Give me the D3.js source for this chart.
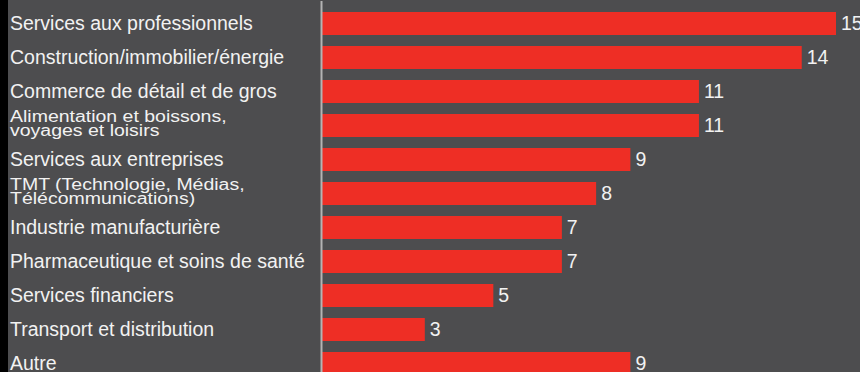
<!DOCTYPE html>
<html>
<head>
<meta charset="utf-8">
<script src="https://cdn.jsdelivr.net/npm/d3@7"></script>
<style>
  html, body { margin: 0; padding: 0; background: #4d4d4f; }
  svg { display: block; }
  text { font-family: "Liberation Sans", Arial, Helvetica, sans-serif; fill: #f2f2f2; }
</style>
</head>
<body>
<svg id="chart" width="860" height="372"></svg>
<script>
const categories = [
  "Services aux professionnels",
  "Construction/immobilier/énergie",
  "Commerce de détail et de gros",
  "Alimentation et boissons,\nvoyages et loisirs",
  "Services aux entreprises",
  "TMT (Technologie, Médias,\nTélécommunications)",
  "Industrie manufacturière",
  "Pharmaceutique et soins de santé",
  "Services financiers",
  "Transport et distribution",
  "Autre"
];
const values = [15, 14, 11, 11, 9, 8, 7, 7, 5, 3, 9];

const W = 860, H = 372;
const FS = 19.5;
const svg = d3.select("#chart");

svg.append("rect").attr("x", 0).attr("y", 0).attr("width", W).attr("height", H).attr("fill", "#4d4d4f");
svg.append("rect").attr("x", 0).attr("y", 0).attr("width", 8).attr("height", H).attr("fill", "#000");

const x = d3.scaleLinear().domain([0, d3.max(values)]).range([322, 836]);
const y = d3.scaleBand().domain(categories).range([12, 12 + 34 * 11 - 11]).paddingInner(11 / 34).paddingOuter(0);

const data = categories.map((c, i) => ({ c, v: values[i] }));

svg.selectAll("rect.bar").data(data).join("rect")
  .attr("class", "bar")
  .attr("x", x(0))
  .attr("y", d => y(d.c))
  .attr("width", d => x(d.v) - x(0))
  .attr("height", y.bandwidth())
  .attr("fill", "#ee2e25");

svg.append("line")
  .attr("x1", 321.5).attr("x2", 321.5)
  .attr("y1", 1).attr("y2", H)
  .attr("stroke", "#b4b4b4").attr("stroke-width", 2);

// category labels
const lab = svg.selectAll("g.lab").data(data).join("g").attr("class", "lab");
lab.each(function(d) {
  const g = d3.select(this);
  const cy = y(d.c) + y.bandwidth() / 2;
  const lines = d.c.split("\n");
  if (lines.length === 1) {
    g.append("text").attr("x", 10).attr("y", cy + 6.3).attr("font-size", FS).text(lines[0]);
  } else {
    const t = g.append("g").attr("transform", `translate(10,${cy}) scale(1,0.8)`)
      .append("text").attr("font-size", FS);
    t.append("tspan").attr("x", 0).attr("y", -3.2 / 0.8).text(lines[0]);
    t.append("tspan").attr("x", 0).attr("y", 10.5 / 0.8).text(lines[1]);
  }
});

// value labels
svg.selectAll("text.val").data(data).join("text")
  .attr("class", "val")
  .attr("x", d => x(d.v) + 5)
  .attr("y", d => y(d.c) + y.bandwidth() / 2 + 6.3)
  .attr("font-size", FS)
  .text(d => d.v);
</script>
</body>
</html>
